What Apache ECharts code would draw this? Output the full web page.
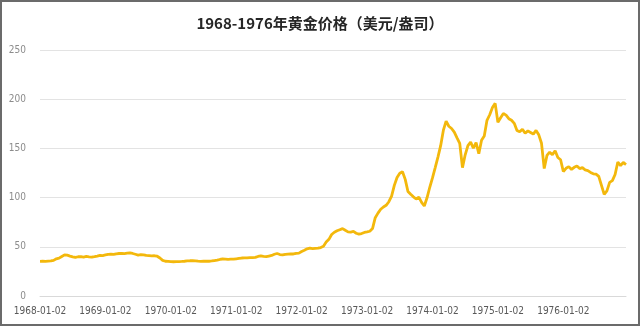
<!DOCTYPE html>
<html>
<head>
<meta charset="utf-8">
<script src="https://cdn.jsdelivr.net/npm/echarts@6/dist/echarts.min.js"></script>
<style>
html,body{margin:0;padding:0;background:#fff;}
#frame{position:absolute;left:0;top:0;width:636px;height:322px;border:2px solid #6b6b6b;}
#chart{position:absolute;left:0;top:0;width:640px;height:329px;}
</style>
</head>
<body>
<div id="frame"></div>
<div id="chart"></div>
<script>
const titleText = '1968-1976年黄金价格（美元/盎司）';
const years = [1968,1969,1970,1971,1972,1973,1974,1975,1976];
const v1968 = [35.2,35.3,35.2,35.4,35.6,36.2,37.8,38.5,40.2,41.8,41.5,40.6,39.8,39.2,39.9,40.1,39.6,40.3,39.8,39.4,39.9,40.5,41.2,41.1];
const v1969 = [41.8,42.3,42.5,42.2,42.9,43.2,43.4,43.1,43.5,43.8,43.2,42.4,41.6,42.0,41.8,41.2,41.0,40.8,40.9,40.4,38.6,36.2,35.3,35.2];
const v1970 = [34.9,34.8,34.9,35.0,35.1,35.3,35.6,35.8,35.9,35.7,35.4,35.2,35.3,35.4,35.3,35.6,36.0,36.4,37.1,37.6,37.5,37.3,37.4,37.4];
const v1971 = [37.8,38.2,38.6,38.8,38.7,39.0,38.9,39.2,40.2,40.8,40.3,40.0,40.6,41.2,42.4,43.2,42.1,41.7,42.3,42.6,42.9,42.7,43.3,43.6];
const v1972 = [45.2,46.5,47.9,48.6,48.1,48.5,48.6,49.2,50.5,54.8,57.6,62.5,64.8,66.3,67.4,68.5,66.8,65.2,64.9,65.6,63.8,62.9,63.5,64.6];
const v1973 = [65.1,65.8,68.5,79.6,84.2,88.1,90.5,92.2,95.8,101.5,112.4,120.5,124.8,126.3,118.5,106.2,103.4,100.8,98.6,100.4,95.2,91.5,99.8,110.5];
const v1974 = [120.0,130.5,141.2,152.8,168.5,177.8,172.5,170.2,166.5,160.8,155.2,130.5,143.5,152.8,156.4,150.2,155.8,144.6,158.2,162.5,178.5,184.2,191.5,195.8];
const v1975 = [176.5,181.2,185.4,183.8,180.2,178.6,175.5,168.2,166.8,169.5,165.4,167.8,166.2,164.5,168.3,163.8,155.2,129.5,142.8,146.2,143.5,147.6,140.8,138.5];
const v1976 = [126.5,129.8,131.5,128.6,130.8,132.2,129.5,130.4,128.2,127.5,125.6,124.2,123.8,121.5,112.4,103.2,106.8,115.5,117.2,123.5,136.2,132.5,135.8,133.6];
const yTicks = [0,50,100,150,200,250];

const yearValues = [v1968,v1969,v1970,v1971,v1972,v1973,v1974,v1975,v1976];
const categories = [];
const values = [];
years.forEach((y, yi) => {
  for (let m = 1; m <= 12; m++) {
    const mm = String(m).padStart(2,'0');
    categories.push(y + '-' + mm + '-02');
    categories.push(y + '-' + mm + '-16');
  }
  values.push(...yearValues[yi]);
});

const chart = echarts.init(document.getElementById('chart'), null, {renderer:'canvas'});
chart.setOption({
  animation:false,
  backgroundColor:'transparent',
  title:{
    text:titleText, left:'center', top:11,
    textStyle:{fontFamily:'"Noto Sans CJK SC", sans-serif', fontSize:15, fontWeight:'bold', color:'#262626'}
  },
  grid:{left:40, right:14, top:50, bottom:33},
  xAxis:{
    type:'category', data:categories, boundaryGap:false,
    axisLine:{show:true, lineStyle:{color:'#d9d9d9', width:1}},
    axisTick:{show:false},
    axisLabel:{
      interval:function(i){ return i % 24 === 0; },
      color:'#595959', fontSize:10, margin:10,
      fontFamily:'"Liberation Sans Narrow","DejaVu Sans Condensed",sans-serif'
    },
    splitLine:{show:false}
  },
  yAxis:{
    type:'value', min:yTicks[0], max:yTicks[yTicks.length-1], interval:50,
    axisLine:{show:false}, axisTick:{show:false},
    axisLabel:{color:'#8c8c8c', fontSize:10, margin:14,
      fontFamily:'"Liberation Sans Narrow","DejaVu Sans Condensed",sans-serif'},
    splitLine:{lineStyle:{color:'#e3e3e3', width:1}}
  },
  series:[{
    type:'line', data:values, showSymbol:false, smooth:false,
    lineStyle:{color:'#F3B80C', width:2.8},
    itemStyle:{color:'#F3B80C'}
  }]
});
</script>
</body>
</html>
